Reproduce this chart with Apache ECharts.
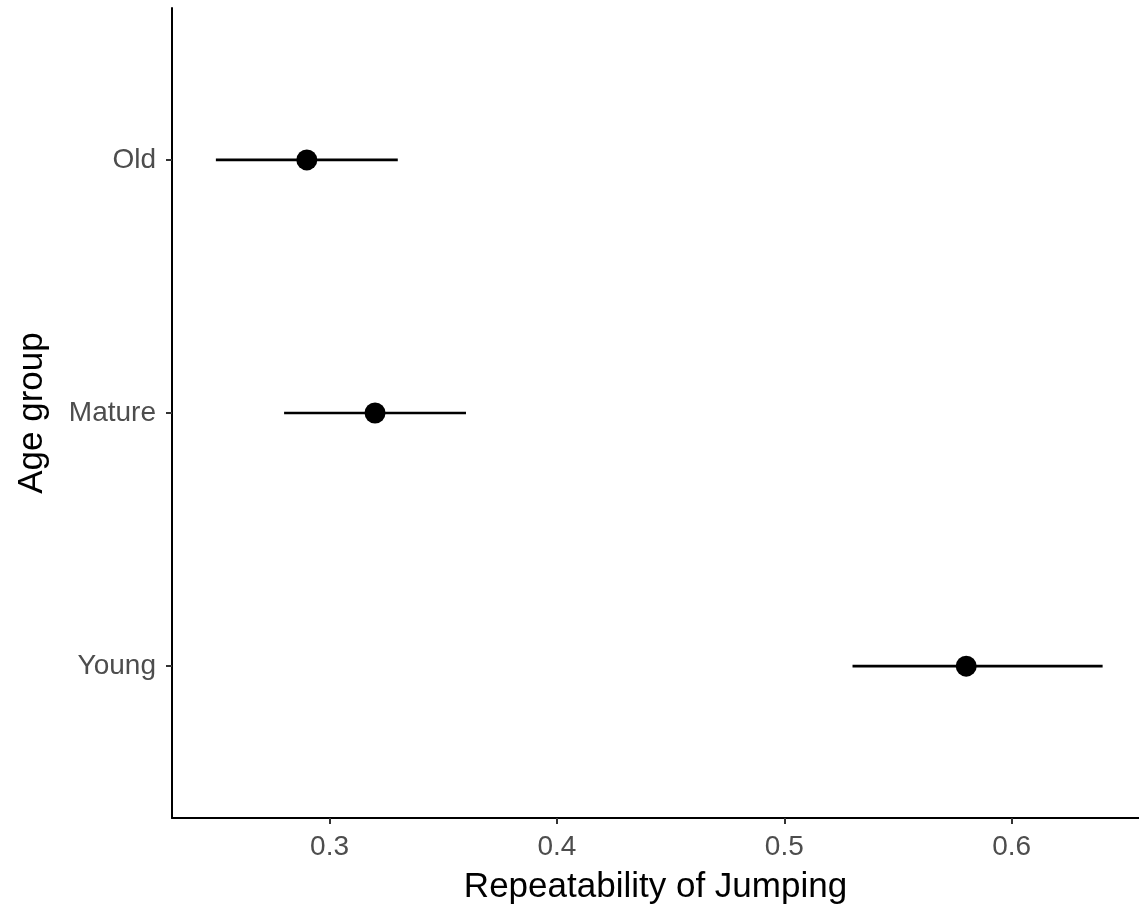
<!DOCTYPE html>
<html>
<head>
<meta charset="utf-8">
<script src="https://cdn.jsdelivr.net/npm/echarts@6/dist/echarts.min.js"></script>
<style>
  html, body { margin: 0; padding: 0; background: #fff; }
  #chart { width: 1139px; height: 909px; }
</style>
</head>
<body>
<div id="chart"></div>
<script>
// bottom to top, as in the plot
const groups = ["Young", "Mature", "Old"];
const estimate = [0.58, 0.32, 0.29];
const lower = [0.53, 0.28, 0.25];
const upper = [0.64, 0.36, 0.33];
const xTicks = [0.3, 0.4, 0.5, 0.6];
const yTicks = [1, 2, 3];

const font = "Liberation Sans, Arial, Helvetica, sans-serif";

const chart = echarts.init(document.getElementById("chart"));

const option = {
  backgroundColor: "#ffffff",
  animation: false,
  grid: { left: 172, right: 0, top: 8, bottom: 91, containLabel: false, outerBoundsMode: "none" },
  xAxis: {
    type: "value",
    min: 0.2307,
    max: 0.656,
    name: "Repeatability of Jumping",
    nameLocation: "middle",
    nameGap: 52,
    nameTextStyle: { color: "#000", fontSize: 35, fontFamily: font },
    axisLine: { show: true, onZero: false, lineStyle: { color: "#000", width: 2 } },
    axisTick: { show: true, length: 6, customValues: xTicks, lineStyle: { color: "#333", width: 2 } },
    axisLabel: {
      customValues: xTicks,
      color: "#4d4d4d",
      fontSize: 28,
      fontFamily: font,
      margin: 15,
      formatter: (v) => Number(v).toFixed(1),
    },
    splitLine: { show: false },
  },
  yAxis: {
    type: "value",
    min: 0.4,
    max: 3.6,
    name: "Age group",
    nameLocation: "middle",
    nameGap: 122,
    nameRotate: 90,
    nameTextStyle: { color: "#000", fontSize: 35, fontFamily: font },
    axisLine: { show: true, onZero: false, lineStyle: { color: "#000", width: 2 } },
    axisTick: { show: true, length: 6, customValues: yTicks, lineStyle: { color: "#333", width: 2 } },
    axisLabel: {
      customValues: yTicks,
      color: "#4d4d4d",
      fontSize: 28,
      fontFamily: font,
      margin: 16,
      formatter: (v) => groups[Math.round(v) - 1],
    },
    splitLine: { show: false },
  },
  series: [
    {
      type: "custom",
      data: groups.map((g, i) => [lower[i], upper[i], i + 1]),
      renderItem: (params, api) => {
        const a = api.coord([api.value(0), api.value(2)]);
        const b = api.coord([api.value(1), api.value(2)]);
        return {
          type: "line",
          shape: { x1: a[0], y1: a[1], x2: b[0], y2: b[1] },
          style: { stroke: "#000", lineWidth: 2.7 },
        };
      },
      encode: { x: [0, 1], y: 2 },
      z: 2,
    },
    {
      type: "scatter",
      data: groups.map((g, i) => [estimate[i], i + 1]),
      symbol: "circle",
      symbolSize: 21,
      itemStyle: { color: "#000", opacity: 1 },
      z: 3,
    },
  ],
};

chart.setOption(option);
</script>
</body>
</html>
